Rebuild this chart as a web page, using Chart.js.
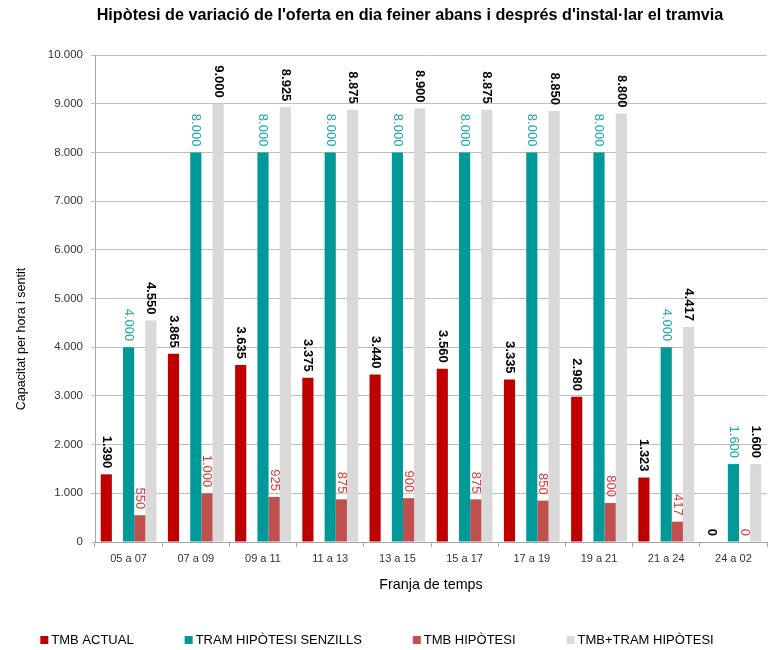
<!DOCTYPE html>
<html>
<head>
<meta charset="utf-8">
<script src="https://cdn.jsdelivr.net/npm/chart.js@4/dist/chart.umd.min.js"></script>
<style>
html, body { margin: 0; padding: 0; background: #fff; }
</style>
</head>
<body>
<canvas id="grafic" width="769" height="650"></canvas>
<script>
// Dades del gràfic
const franges = ['05 a 07', '07 a 09', '09 a 11', '11 a 13', '13 a 15', '15 a 17', '17 a 19', '19 a 21', '21 a 24', '24 a 02'];
const tmbActual = [1390, 3865, 3635, 3375, 3440, 3560, 3335, 2980, 1323, 0];
const tramHipotesi = [4000, 8000, 8000, 8000, 8000, 8000, 8000, 8000, 4000, 1600];
const tmbHipotesi = [550, 1000, 925, 875, 900, 875, 850, 800, 417, 0];
const tmbTramHipotesi = [4550, 9000, 8925, 8875, 8900, 8875, 8850, 8800, 4417, 1600];
const buit = [null, null, null, null, null, null, null, null, null, null];
const tickMax = 10000;
const tickPas = 1000;

const titol = "Hipòtesi de variació de l'oferta en dia feiner abans i després d'instal·lar el tramvia";
const titolEixY = 'Capacitat per hora i sentit';
const titolEixX = 'Franja de temps';

const FONT = "'Liberation Sans', Arial, sans-serif";

// Format amb punt de milers
function fmt(v) {
    return String(v).replace(/\B(?=(\d{3})+(?!\d))/g, '.');
}

// Etiquetes de valor girades sobre cada barra
const etiquetes = {
    id: 'etiquetes',
    afterDatasetsDraw(chart) {
        const ctx = chart.ctx;
        chart.data.datasets.forEach(function (ds, i) {
            if (!ds.etiqueta) return;
            const meta = chart.getDatasetMeta(i);
            meta.data.forEach(function (bar, j) {
                const v = ds.data[j];
                if (v === null) return;
                ctx.save();
                ctx.translate(bar.x, bar.y - 6);
                ctx.rotate(Math.PI / 2);
                ctx.textAlign = 'right';
                ctx.textBaseline = 'middle';
                ctx.font = ds.etiqueta.font;
                ctx.fillStyle = ds.etiqueta.color;
                ctx.fillText(fmt(v), 0, 0);
                ctx.restore();
            });
        });
    }
};

// Títol general i títol de l'eix Y
const titols = {
    id: 'titols',
    afterDraw(chart) {
        const ctx = chart.ctx;
        ctx.save();
        ctx.textAlign = 'center';
        ctx.textBaseline = 'middle';
        ctx.fillStyle = '#000';
        ctx.font = 'bold 16.2px ' + FONT;
        ctx.fillText(titol, 410, 16);
        ctx.translate(22, 339);
        ctx.rotate(-Math.PI / 2);
        ctx.font = '12.5px ' + FONT;
        ctx.fillText(titolEixY, 0, 0);
        ctx.restore();
    }
};

// Llegenda a peu del gràfic (una sola fila)
const llegenda = {
    id: 'llegenda',
    afterDraw(chart) {
        const ctx = chart.ctx;
        const items = chart.data.datasets.filter(function (ds) { return ds.label !== ''; });
        const quadre = 8, sep = 3, espai = 51, y = 640, centre = 377;
        ctx.save();
        ctx.font = '13px ' + FONT;
        ctx.textBaseline = 'middle';
        let total = 0;
        const amples = items.map(function (ds) {
            const w = quadre + sep + ctx.measureText(ds.label).width;
            total += w;
            return w;
        });
        total += espai * (items.length - 1);
        let x = centre - total / 2;
        items.forEach(function (ds, i) {
            ctx.fillStyle = ds.backgroundColor;
            ctx.fillRect(x, y - quadre / 2, quadre, quadre);
            ctx.fillStyle = '#000';
            ctx.fillText(ds.label, x + quadre + sep, y);
            x += amples[i] + espai;
        });
        ctx.restore();
    }
};

const ctx = document.getElementById('grafic').getContext('2d');
const chart = new Chart(ctx, {
    type: 'bar',
    data: {
        labels: franges,
        datasets: [{
            label: 'TMB ACTUAL',
            data: tmbActual,
            backgroundColor: '#C00000',
            etiqueta: { color: '#000', font: 'bold 13px ' + FONT }
        }, {
            label: '',
            data: buit,
            backgroundColor: 'rgba(0,0,0,0)'
        }, {
            label: 'TRAM HIPÒTESI SENZILLS',
            data: tramHipotesi,
            backgroundColor: '#009999',
            etiqueta: { color: '#1BA8A8', font: '13px ' + FONT }
        }, {
            label: 'TMB HIPÒTESI',
            data: tmbHipotesi,
            backgroundColor: '#C0504D',
            etiqueta: { color: '#E03A3A', font: '13px ' + FONT }
        }, {
            label: 'TMB+TRAM HIPÒTESI',
            data: tmbTramHipotesi,
            backgroundColor: '#D9D9D9',
            etiqueta: { color: '#000', font: 'bold 13px ' + FONT }
        }]
    },
    options: {
        responsive: false,
        animation: false,
        devicePixelRatio: 1,
        layout: { padding: { left: 0, right: 2, top: 55, bottom: 72 } },
        datasets: {
            bar: { barPercentage: 1, categoryPercentage: 0.83, borderWidth: 0 }
        },
        plugins: {
            title: { display: false },
            legend: { display: false },
            tooltip: { enabled: false }
        },
        scales: {
            x: {
                grid: { offset: true, drawOnChartArea: false, drawTicks: true, tickLength: 5, color: '#A6A6A6' },
                border: { color: '#A6A6A6' },
                ticks: { color: '#333', padding: 5, font: { family: FONT, size: 11 } },
                title: {
                    display: true,
                    text: titolEixX,
                    color: '#000',
                    font: { family: FONT, size: 14.3 },
                    padding: { top: 0, bottom: -15.6 }
                },
                afterFit: function (s) { s.height = 36; }
            },
            y: {
                min: 0,
                max: tickMax,
                grid: { color: '#BFBFBF', tickLength: 4 },
                border: { color: '#A6A6A6' },
                ticks: {
                    stepSize: tickPas,
                    padding: 8,
                    color: '#333',
                    font: { family: FONT, size: 11.5 },
                    callback: function (v) { return fmt(v); }
                },
                afterFit: function (s) { s.width = 95; }
            }
        }
    },
    plugins: [etiquetes, titols, llegenda]
});
</script>
</body>
</html>
